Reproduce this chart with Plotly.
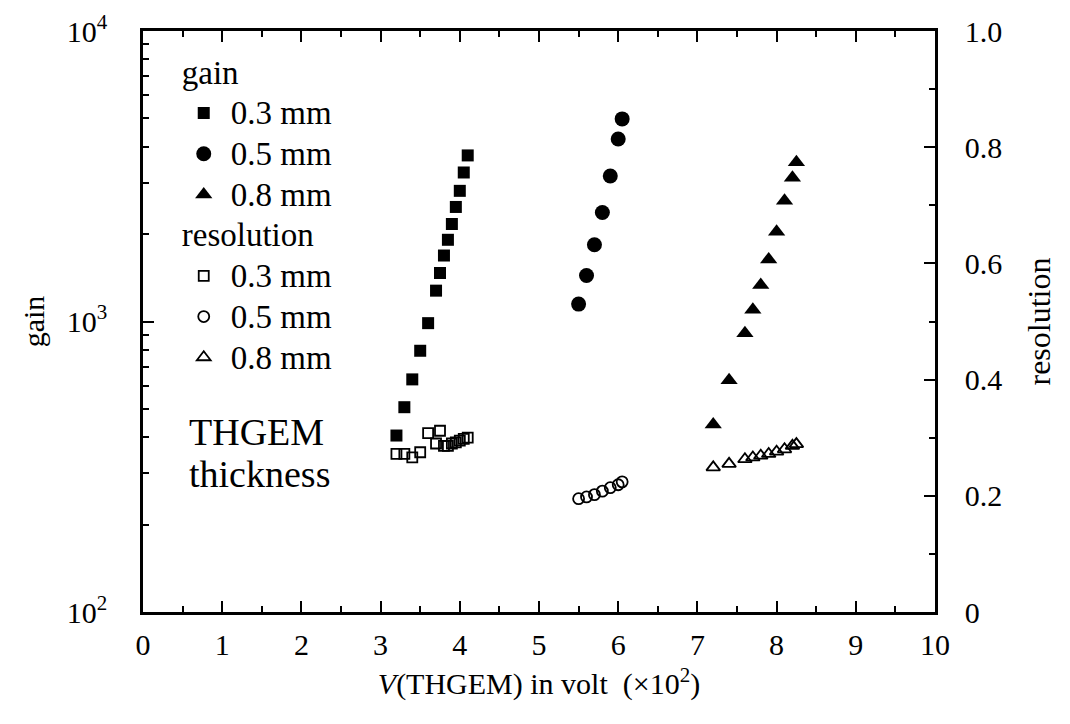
import plotly.graph_objects as go

# ---- data ----
v_03 = [3.2, 3.3, 3.4, 3.5, 3.6, 3.7, 3.75, 3.8, 3.85, 3.9, 3.95, 4.0, 4.05, 4.1]
gain_03 = [405, 507, 632, 793, 987, 1277, 1469, 1687, 1911, 2166, 2479, 2817, 3258, 3730]
res_03 = [0.272, 0.272, 0.266, 0.275, 0.308, 0.290, 0.312, 0.286, 0.286, 0.290, 0.292, 0.295, 0.298, 0.300]

v_05 = [5.5, 5.6, 5.7, 5.8, 5.9, 6.0, 6.05]
gain_05 = [1148, 1440, 1838, 2373, 3168, 4247, 4982]
res_05 = [0.195, 0.198, 0.202, 0.208, 0.214, 0.219, 0.224]

v_08 = [7.2, 7.4, 7.6, 7.7, 7.8, 7.9, 8.0, 8.1, 8.2, 8.25]
gain_08 = [442, 628, 911, 1098, 1335, 1636, 2035, 2606, 3126, 3534]
res_08 = [0.249, 0.255, 0.263, 0.266, 0.269, 0.272, 0.276, 0.280, 0.286, 0.289]

labels = ["0.3 mm", "0.5 mm", "0.8 mm"]
x_ticks = list(range(0, 11))
y_tickvals = [100, 1000, 10000]
y_ticktext = ["10<sup>2</sup>", "10<sup>3</sup>", "10<sup>4</sup>"]
y2_tickvals = [0, 0.2, 0.4, 0.6, 0.8, 1.0]
y2_ticktext = ["0", "0.2", "0.4", "0.6", "0.8", "1.0"]
y_minor = [m * 10 ** e for e in (2, 3) for m in range(2, 10)]

FONT = "Liberation Serif, Times New Roman, serif"
BLACK = "#000000"


def big(s, px=33):
    return f'<span style="font-size:{px}px">{s}</span>'


fig = go.Figure()

gain_sets = [(v_03, gain_03, "square", 12), (v_05, gain_05, "circle", 15), (v_08, gain_08, "triangle-up", 15)]
res_sets = [(v_03, res_03, "square-open", 10), (v_05, res_05, "circle-open", 11), (v_08, res_08, "triangle-up-open", 12)]

for (xs, ys, sym, sz), lab in zip(gain_sets, labels):
    fig.add_trace(go.Scatter(
        x=xs, y=ys, mode="markers", name=big(lab),
        legendgroup="gain", legendgrouptitle_text=big("gain"),
        marker=dict(symbol=sym, size=sz, color=BLACK, line=dict(width=0)),
        yaxis="y",
    ))

for (xs, ys, sym, sz), lab in zip(res_sets, labels):
    fig.add_trace(go.Scatter(
        x=xs, y=ys, mode="markers", name=big(lab),
        legendgroup="res", legendgrouptitle_text=big("resolution"),
        marker=dict(symbol=sym, size=sz, color=BLACK, line=dict(width=1.8, color=BLACK)),
        yaxis="y2",
    ))

fig.add_annotation(
    text=big("THGEM", 38) + "<br>" + big("thickness", 38), xref="paper", yref="paper",
    x=0.056, y=0.274, xanchor="left", yanchor="middle", align="left",
    showarrow=False, font=dict(family=FONT, size=32, color=BLACK),
)

axis_common = dict(
    showline=True, linecolor=BLACK, linewidth=2.5,
    ticks="inside", tickcolor=BLACK, tickwidth=2,
    showgrid=False, zeroline=False, automargin=False,
    tickfont=dict(family=FONT, size=30, color=BLACK),
)

fig.update_layout(
    width=1062, height=716,
    margin=dict(l=135, r=135, t=23, b=112),
    paper_bgcolor="white", plot_bgcolor="white",
    font=dict(family=FONT, color=BLACK),
    showlegend=True,
    legend=dict(
        x=0.0426, y=0.9725, xanchor="left", yanchor="top",
        bgcolor="rgba(0,0,0,0)", borderwidth=0,
        font=dict(family=FONT, size=29, color=BLACK),
        grouptitlefont=dict(family=FONT, size=29, color=BLACK),
        tracegroupgap=0, itemwidth=44,
    ),
    xaxis=dict(
        **axis_common,
        range=[0, 10], tickvals=x_ticks, ticklen=11, mirror="ticks",
        minor=dict(ticks="inside", dtick=0.5, ticklen=6, tickcolor=BLACK, tickwidth=2),
        title=dict(text="<i>V</i>(THGEM) in volt  (×10<sup>2</sup>)",
                   font=dict(family=FONT, size=30, color=BLACK), standoff=14),
        ticklabelstandoff=4,
    ),
    yaxis=dict(
        **axis_common,
        type="log", range=[2, 4], tickvals=y_tickvals, ticktext=y_ticktext, ticklen=11,
        minor=dict(ticks="inside", tickvals=y_minor, ticklen=6, tickcolor=BLACK, tickwidth=2),
        title=dict(text="gain", font=dict(family=FONT, size=30, color=BLACK), standoff=14),
        ticklabelstandoff=27,
    ),
    yaxis2=dict(
        **axis_common,
        overlaying="y", side="right", range=[0, 1],
        tickvals=y2_tickvals, ticktext=y2_ticktext, ticklen=11,
        minor=dict(ticks="inside", dtick=0.1, ticklen=6, tickcolor=BLACK, tickwidth=2),
        title=dict(text="resolution", font=dict(family=FONT, size=32, color=BLACK), standoff=27),
        ticklabelstandoff=21,
    ),
)

fig.write_html("out.html")
